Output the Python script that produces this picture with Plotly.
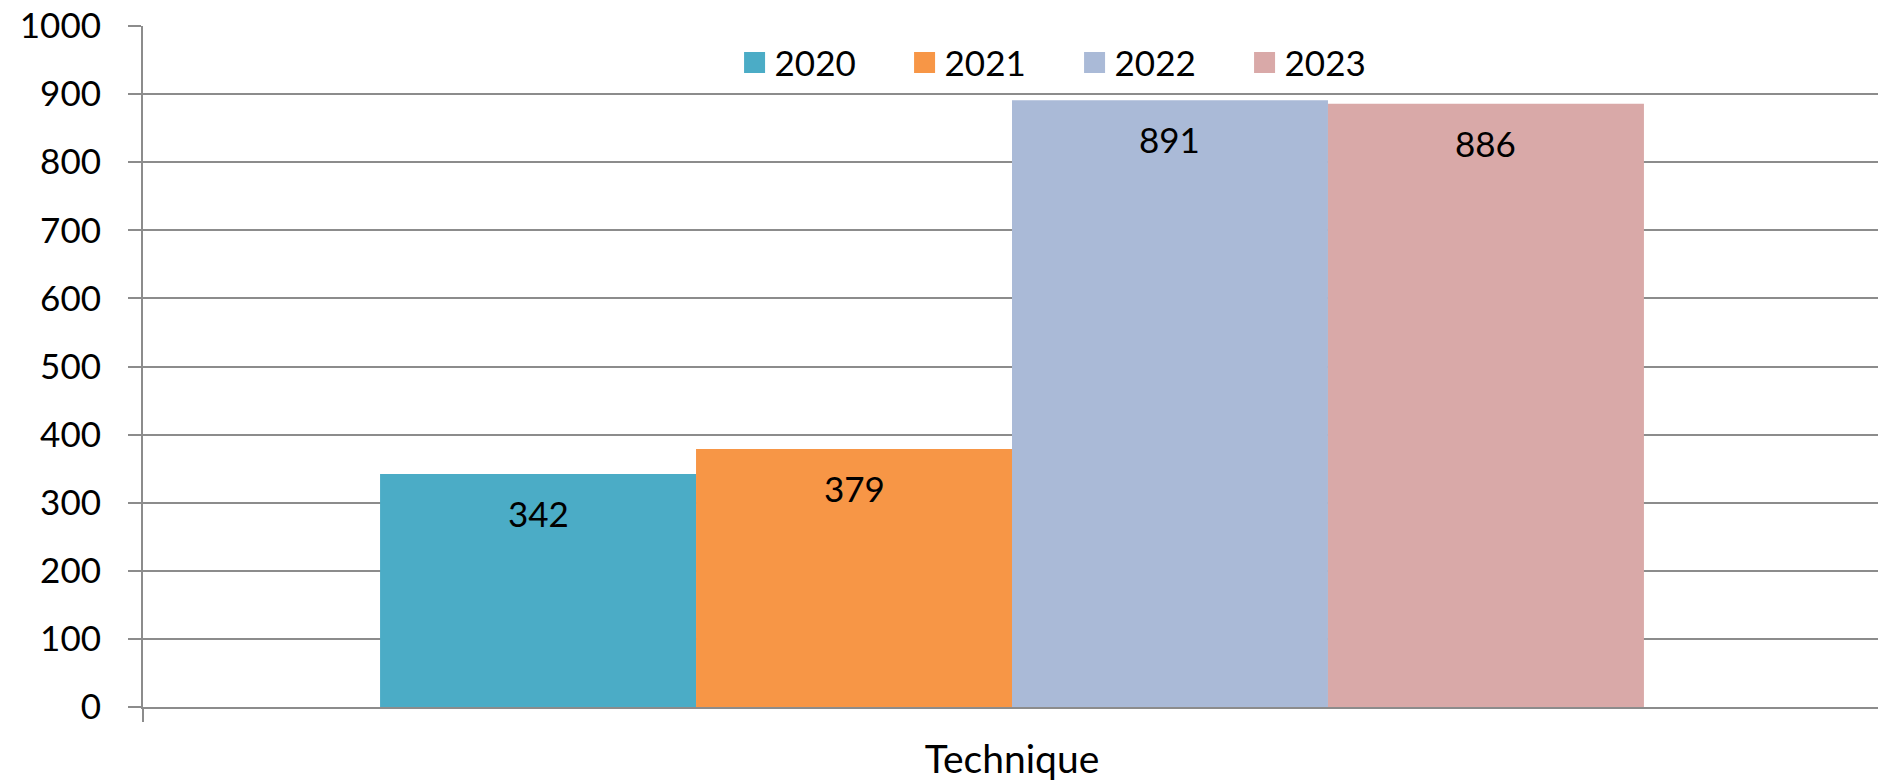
import plotly.graph_objects as go

categories = ["Technique"]
years = ["2020", "2021", "2022", "2023"]
values = [[342], [379], [891], [886]]
colors = ["#4BACC6", "#F79646", "#AABAD7", "#D9A9A8"]

# bar width in category units (Excel gap width 150%)
bar_w = 0.1818
start = -2 * bar_w

fig = go.Figure()
for i, (year, vals, col) in enumerate(zip(years, values, colors)):
    off = start + i * bar_w
    fig.add_trace(
        go.Bar(
            x=categories,
            y=vals,
            name=year,
            width=bar_w,
            offset=off,
            marker=dict(color=col, line=dict(width=0)),
            showlegend=False,
        )
    )
    # legend entry with a bigger square
    fig.add_trace(
        go.Scatter(
            x=[None],
            y=[None],
            mode="markers",
            name=year,
            marker=dict(symbol="square", size=16, color=col, line=dict(color=col, width=5)),
        )
    )
    for j, v in enumerate(vals):
        fig.add_annotation(
            x=j + off + bar_w / 2,
            y=v,
            text=str(v),
            showarrow=False,
            yanchor="middle",
            yshift=-39,
            font=dict(size=35, color="black"),
        )

fig.update_layout(
    width=1881,
    height=784,
    margin=dict(l=143, r=0, t=26, b=77),
    paper_bgcolor="white",
    plot_bgcolor="white",
    font=dict(family="Lato, Open Sans, sans-serif", color="black", size=35),
    legend=dict(
        orientation="h",
        x=0.536,
        xanchor="center",
        y=0.946,
        yanchor="middle",
        font=dict(size=35),
        bgcolor="rgba(0,0,0,0)",
        entrywidth=125,
        traceorder="normal",
    ),
)
fig.update_yaxes(
    range=[0, 1000],
    dtick=100,
    automargin=False,
    showgrid=True,
    gridcolor="#8c8c8c",
    gridwidth=2,
    showline=True,
    linecolor="#8c8c8c",
    linewidth=2,
    ticks="outside",
    ticklen=13,
    tickcolor="#8c8c8c",
    tickwidth=2,
    ticklabelstandoff=20,
    ticklabeloverflow="allow",
    zeroline=False,
    tickfont=dict(size=35),
)
fig.update_xaxes(
    range=[-0.5, 0.5],
    automargin=False,
    showline=True,
    linecolor="#8c8c8c",
    linewidth=2,
    ticks="outside",
    tickson="boundaries",
    ticklen=13,
    tickcolor="#8c8c8c",
    tickwidth=2,
    tickfont=dict(size=39),
    ticklabelstandoff=17,
)

# drop the default 8px page margin so the figure fills the window
fig.write_html(
    "out.html",
    config={"displayModeBar": False},
    post_script="document.body.style.margin='0';",
)
